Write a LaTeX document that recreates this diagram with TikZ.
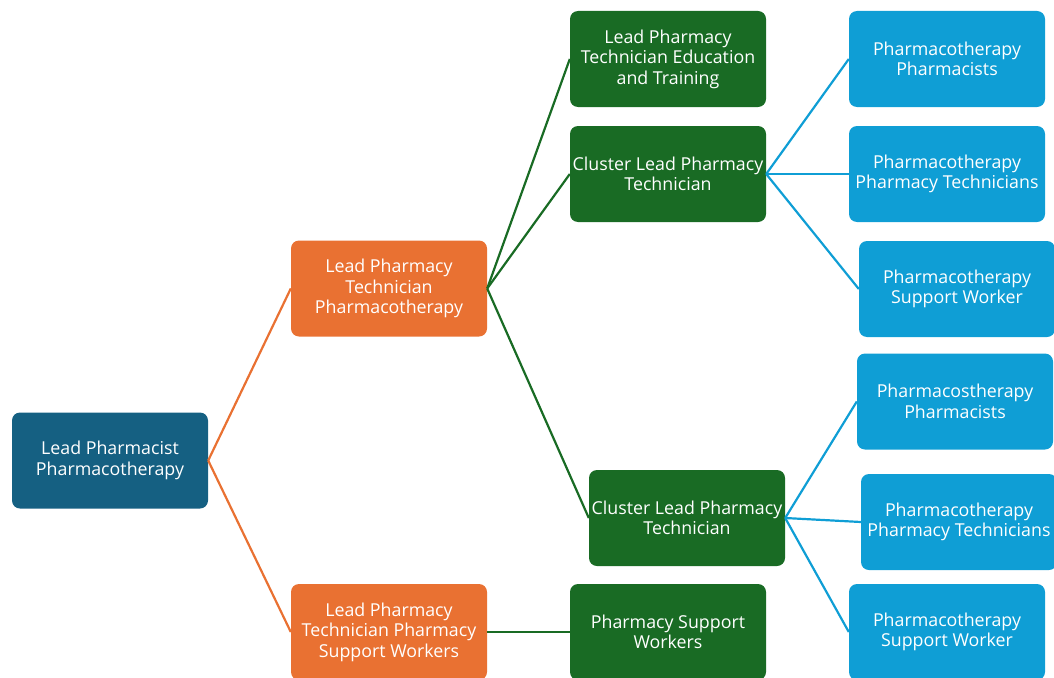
\documentclass[tikz,border=0pt]{standalone}
\usepackage{fontspec}
\setmainfont{Open Sans}
\definecolor{rootc}{HTML}{156082}
\definecolor{orangec}{HTML}{E97132}
\definecolor{greenc}{HTML}{196B24}
\definecolor{bluec}{HTML}{0F9ED5}
\begin{document}
\begin{tikzpicture}[x=1pt,y=-1pt,
  box/.style={rounded corners=8pt, minimum width=196pt, minimum height=96pt,
    inner sep=0pt, align=center, text=white,
    font=\fontsize{17.8}{20.5}\selectfont},
  rootbox/.style={box, fill=rootc},
  orbox/.style={box, fill=orangec},
  grbox/.style={box, fill=greenc},
  blbox/.style={box, fill=bluec},
  orline/.style={draw=orangec, line width=2.2pt},
  grline/.style={draw=greenc, line width=2.2pt},
  blline/.style={draw=bluec, line width=2.2pt}]
\useasboundingbox (0,0) rectangle (1054,677);
\clip (0,0) rectangle (1054,677);

\node[rootbox] (root) at (110,460.5) {Lead Pharmacist\\Pharmacotherapy};
\node[orbox] (o1) at (389,288.5) {Lead Pharmacy\\Technician\\Pharmacotherapy};
\node[orbox] (o2) at (389,632) {Lead Pharmacy\\Technician Pharmacy\\Support Workers};
\node[grbox] (g1) at (668,59) {Lead Pharmacy\\Technician Education\\and Training};
\node[grbox] (g2) at (668,174) {Cluster Lead Pharmacy\\Technician};
\node[grbox] (g3) at (687,518) {Cluster Lead Pharmacy\\Technician};
\node[grbox] (g4) at (668,632) {Pharmacy Support\\Workers};
\node[blbox] (b1) at (947,59) {Pharmacotherapy\\Pharmacists};
\node[blbox] (b2) at (947,174) {Pharmacotherapy\\Pharmacy Technicians};
\node[blbox] (b3) at (957,289) {Pharmacotherapy\\Support Worker};
\node[blbox] (b4) at (955,401.5) {Pharmacostherapy\\Pharmacists};
\node[blbox] (b5) at (959,522) {Pharmacotherapy\\Pharmacy Technicians};
\node[blbox] (b6) at (947,632) {Pharmacotherapy\\Support Worker};

\draw[orline] (root.east) -- (o1.west);
\draw[orline] (root.east) -- (o2.west);
\draw[grline] (o1.east) -- (g1.west);
\draw[grline] (o1.east) -- (g2.west);
\draw[grline] (o1.east) -- (g3.west);
\draw[grline] (o2.east) -- (g4.west);
\draw[blline] (g2.east) -- (b1.west);
\draw[blline] (g2.east) -- (b2.west);
\draw[blline] (g2.east) -- (b3.west);
\draw[blline] (g3.east) -- (b4.west);
\draw[blline] (g3.east) -- (b5.west);
\draw[blline] (g3.east) -- (b6.west);
\end{tikzpicture}
\end{document}
